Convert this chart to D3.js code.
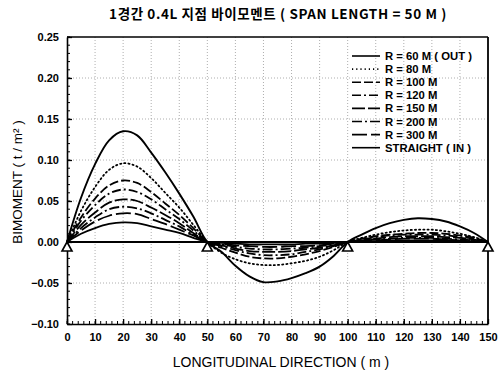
<!DOCTYPE html>
<html>
<head>
<meta charset="utf-8">
<script src="https://cdn.jsdelivr.net/npm/d3@7"></script>
<style>
  body { margin: 0; background: #fff; }
  svg { display: block; }
  .tick text { font-family: "Liberation Sans", Arial, sans-serif; font-weight: bold; font-size: 11px; }
</style>
</head>
<body>
<svg id="chart" width="501" height="375"></svg>
<script>
// distance along bridge (m)
const xs = [0, 5, 10, 15, 20, 25, 30, 35, 40, 45, 50,
  55, 60, 65, 70, 75, 80, 85, 90, 95, 100,
  105, 110, 115, 120, 125, 130, 135, 140, 145, 150];

const r60 = [0, 0.054, 0.095, 0.124, 0.135, 0.130, 0.109, 0.085, 0.059, 0.031, 0,
  -0.012, -0.029, -0.042, -0.049, -0.048, -0.044, -0.038, -0.030, -0.017, 0,
  0.009, 0.017, 0.023, 0.027, 0.029, 0.028, 0.025, 0.019, 0.011, 0];
const r80 = [0, 0.038, 0.067, 0.088, 0.096, 0.092, 0.078, 0.060, 0.042, 0.021, 0,
  -0.013, -0.021, -0.026, -0.028, -0.028, -0.026, -0.023, -0.018, -0.010, 0,
  0.005, 0.009, 0.012, 0.014, 0.015, 0.015, 0.013, 0.010, 0.006, 0];
const r100 = [0, 0.030, 0.053, 0.069, 0.075, 0.072, 0.061, 0.047, 0.033, 0.017, 0,
  -0.007, -0.013, -0.018, -0.020, -0.020, -0.018, -0.015, -0.011, -0.006, 0,
  0.004, 0.007, 0.009, 0.010, 0.011, 0.011, 0.010, 0.008, 0.005, 0];
const r120 = [0, 0.026, 0.045, 0.059, 0.064, 0.061, 0.052, 0.040, 0.028, 0.014, 0,
  -0.005, -0.010, -0.014, -0.016, -0.016, -0.015, -0.012, -0.009, -0.005, 0,
  0.003, 0.006, 0.008, 0.009, 0.009, 0.009, 0.008, 0.006, 0.004, 0];
const r150 = [0, 0.021, 0.036, 0.048, 0.052, 0.050, 0.042, 0.033, 0.023, 0.011, 0,
  -0.004, -0.008, -0.011, -0.012, -0.012, -0.011, -0.009, -0.007, -0.004, 0,
  0.002, 0.004, 0.006, 0.007, 0.007, 0.007, 0.006, 0.005, 0.003, 0];
const r200 = [0, 0.017, 0.030, 0.040, 0.043, 0.041, 0.035, 0.027, 0.019, 0.009, 0,
  -0.003, -0.006, -0.008, -0.009, -0.009, -0.008, -0.007, -0.005, -0.003, 0,
  0.002, 0.003, 0.004, 0.005, 0.005, 0.005, 0.004, 0.003, 0.002, 0];
const r300 = [0, 0.014, 0.025, 0.032, 0.035, 0.034, 0.028, 0.022, 0.015, 0.008, 0,
  -0.002, -0.004, -0.005, -0.006, -0.006, -0.005, -0.005, -0.004, -0.002, 0,
  0.001, 0.002, 0.003, 0.004, 0.004, 0.004, 0.003, 0.002, 0.001, 0];
const straight = [0, 0.010, 0.017, 0.022, 0.024, 0.023, 0.019, 0.015, 0.011, 0.005, 0,
  -0.001, -0.002, -0.003, -0.003, -0.003, -0.003, -0.002, -0.002, -0.001, 0,
  0.001, 0.001, 0.002, 0.002, 0.002, 0.002, 0.002, 0.001, 0.001, 0];

const seriesNames = ['R = 60 M ( OUT )', 'R = 80 M', 'R = 100 M', 'R = 120 M',
  'R = 150 M', 'R = 200 M', 'R = 300 M', 'STRAIGHT ( IN )'];
const seriesValues = [r60, r80, r100, r120, r150, r200, r300, straight];
const dashes = ['none', '1.2,3', '9,3', '9,3,2,3', '13,3', '10,3,2,3', '15,4', 'none'];
const widths = [1.9, 1.8, 1.8, 1.8, 1.8, 1.8, 1.8, 1.8];

const supports = [0, 50, 100, 150];
const xTicks = [0, 10, 20, 30, 40, 50, 60, 70, 80, 90, 100, 110, 120, 130, 140, 150];
const yTicks = [-0.10, -0.05, 0.00, 0.05, 0.10, 0.15, 0.20, 0.25];

const svg = d3.select('#chart');
const pLeft = 67, pRight = 488, pTop = 37, pBottom = 324;

const x = d3.scaleLinear().domain([0, 150]).range([pLeft, pRight]);
const y = d3.scaleLinear().domain([-0.10, 0.25]).range([pBottom, pTop]);

svg.append('rect')
  .attr('width', 501).attr('height', 375).attr('fill', '#fff');

// title
svg.append('text')
  .attr('x', 278).attr('y', 19)
  .attr('text-anchor', 'middle')
  .attr('font-family', '"Noto Sans CJK KR", "Liberation Sans", sans-serif')
  .attr('font-weight', 'bold')
  .attr('font-size', 13.5)
  .attr('letter-spacing', 0.6)
  .text('1경간 0.4L 지점 바이모멘트 ( SPAN LENGTH = 50 M )');

// grid
const grid = svg.append('g')
  .attr('stroke', '#999')
  .attr('stroke-width', 0.8)
  .attr('stroke-dasharray', '1,2');
grid.selectAll('line.v')
  .data(xTicks.slice(1, -1))
  .enter().append('line')
  .attr('x1', d => x(d)).attr('x2', d => x(d))
  .attr('y1', pTop).attr('y2', pBottom);
grid.selectAll('line.h')
  .data(yTicks.slice(1, -1).filter(d => d !== 0))
  .enter().append('line')
  .attr('x1', pLeft).attr('x2', pRight)
  .attr('y1', d => y(d)).attr('y2', d => y(d));

// axes
const xAxis = d3.axisBottom(x).tickValues(xTicks).tickSizeInner(-5).tickSizeOuter(0).tickPadding(9);
const yAxis = d3.axisLeft(y).tickValues(yTicks).tickFormat(d3.format('.2f')).tickSizeInner(-5).tickSizeOuter(0).tickPadding(8);

const gx = svg.append('g').attr('transform', `translate(0,${pBottom})`).call(xAxis);
const gy = svg.append('g').attr('transform', `translate(${pLeft},0)`).call(yAxis);
[gx, gy].forEach(g => {
  g.select('.domain').attr('stroke', '#000').attr('stroke-width', 1.6);
  g.selectAll('.tick line').attr('stroke', '#000').attr('stroke-width', 1.3);
  g.selectAll('.tick text').attr('fill', '#000');
});

// minor ticks
const xMinor = d3.scaleLinear().domain([0, 150]).ticks(75);
svg.append('g').selectAll('line')
  .data(xMinor)
  .enter().append('line')
  .attr('x1', d => x(d)).attr('x2', d => x(d))
  .attr('y1', pBottom).attr('y2', pBottom - 3)
  .attr('stroke', '#000').attr('stroke-width', 1);
const yMinor = d3.scaleLinear().domain([-0.10, 0.25]).ticks(35);
svg.append('g').selectAll('line')
  .data(yMinor)
  .enter().append('line')
  .attr('x1', pLeft).attr('x2', pLeft + 3)
  .attr('y1', d => y(d)).attr('y2', d => y(d))
  .attr('stroke', '#000').attr('stroke-width', 1);

// frame top / right
svg.append('line')
  .attr('x1', pLeft).attr('x2', pRight).attr('y1', pTop).attr('y2', pTop)
  .attr('stroke', '#000').attr('stroke-width', 1.3);
svg.append('line')
  .attr('x1', pRight).attr('x2', pRight).attr('y1', pTop).attr('y2', pBottom)
  .attr('stroke', '#000').attr('stroke-width', 1.8);

// zero line
svg.append('line')
  .attr('x1', x(0)).attr('x2', x(150))
  .attr('y1', y(0)).attr('y2', y(0))
  .attr('stroke', '#000').attr('stroke-width', 2);

// curves
const line = d3.line()
  .x((d, i) => x(xs[i]))
  .y(d => y(d))
  .curve(d3.curveCatmullRom.alpha(0.5));

svg.append('g').selectAll('path')
  .data(seriesValues)
  .enter().append('path')
  .attr('d', d => line(d))
  .attr('fill', 'none')
  .attr('stroke', '#000')
  .attr('stroke-width', (d, i) => widths[i])
  .attr('stroke-dasharray', (d, i) => dashes[i])
  .attr('stroke-linecap', (d, i) => i === 1 ? 'round' : 'butt');

// support triangles
svg.append('g').selectAll('path')
  .data(supports)
  .enter().append('path')
  .attr('d', d => `M${x(d)},${y(0)} L${x(d) - 5},${y(0) + 9} L${x(d) + 5},${y(0) + 9} Z`)
  .attr('fill', '#fff')
  .attr('stroke', '#000')
  .attr('stroke-width', 1.6);

// legend
const legend = svg.append('g').attr('transform', 'translate(352,56)');
const items = legend.selectAll('g')
  .data(seriesNames)
  .enter().append('g')
  .attr('transform', (d, i) => `translate(0,${i * 13.1})`);
items.append('line')
  .attr('x1', 0).attr('x2', 28)
  .attr('stroke', '#000')
  .attr('stroke-width', 1.6)
  .attr('stroke-dasharray', (d, i) => dashes[i]);
items.append('text')
  .attr('x', 33).attr('y', 4)
  .attr('font-family', '"Liberation Sans", Arial, sans-serif')
  .attr('font-weight', 'bold')
  .attr('font-size', 11.3)
  .text(d => d);

// axis titles
svg.append('text')
  .attr('x', 281).attr('y', 367)
  .attr('text-anchor', 'middle')
  .attr('font-family', '"Liberation Sans", Arial, sans-serif')
  .attr('font-size', 14)
  .text('LONGITUDINAL DIRECTION  ( m )');

svg.append('text')
  .attr('transform', 'translate(22,182) rotate(-90)')
  .attr('text-anchor', 'middle')
  .attr('font-family', '"Liberation Sans", Arial, sans-serif')
  .attr('font-size', 13.5)
  .text('BIMOMENT ( t / m² )');
</script>
</body>
</html>
